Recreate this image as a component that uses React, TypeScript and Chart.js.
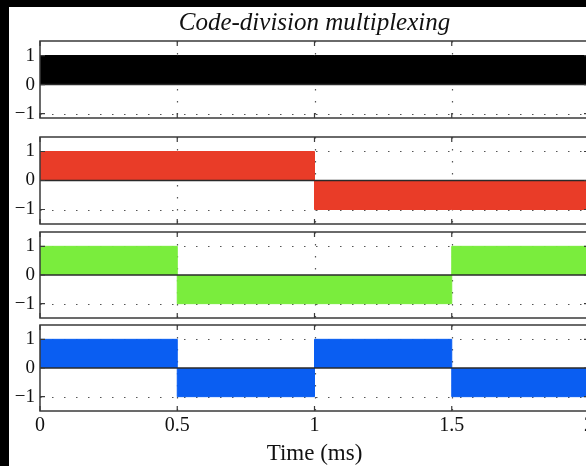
import React, { useEffect, useRef } from "react";
import { Chart, registerables } from "chart.js";

Chart.register(...registerables);

// ---- data ----
const chipEdges = [0, 0.5, 1, 1.5, 2];
const dataSignal = [1, 1, 1, 1];
const codeRed = [1, 1, -1, -1];
const codeGreen = [1, -1, -1, 1];
const codeBlue = [1, -1, 1, -1];
const xTickValues = [0, 0.5, 1, 1.5, 2];
const xTickLabels = ["0", "0.5", "1", "1.5", "2"];
const yTickValues = [-1, 0, 1];
const yTickLabels = ["\u22121", "0", "1"];
const titleText = "Code-division multiplexing";
const xAxisTitle = "Time (ms)";

// ---- layout ----
const CANVAS_W = 620;
const Y_AXIS_W = 40;
const RIGHT_PAD = 31;
const SERIF = "'Liberation Serif', 'Times New Roman', serif";

type PanelCfg = {
  values: number[];
  color: string;
  canvasTop: number;
  canvasHeight: number;
  yMin: number;
  yMax: number;
  withTitle?: boolean;
  withXAxis?: boolean;
};

const panels: PanelCfg[] = [
  { values: dataSignal, color: "#000000", canvasTop: 7, canvasHeight: 113, yMin: -1.15, yMax: 1.5, withTitle: true },
  { values: codeRed, color: "#e93c28", canvasTop: 135, canvasHeight: 91, yMin: -1.5, yMax: 1.5 },
  { values: codeGreen, color: "#7aed3d", canvasTop: 230, canvasHeight: 90, yMin: -1.5, yMax: 1.5 },
  { values: codeBlue, color: "#0a5ef2", canvasTop: 323, canvasHeight: 147, yMin: -1.5, yMax: 1.5, withXAxis: true },
];

const framePlugin = {
  id: "matlabFrame",
  beforeDatasetsDraw(chart: any) {
    const { ctx, chartArea: a } = chart;
    const xs = chart.scales.x;
    const ys = chart.scales.y;
    ctx.save();
    ctx.beginPath();
    ctx.rect(a.left, a.top, a.right - a.left, a.bottom - a.top);
    ctx.clip();
    ctx.strokeStyle = "#555555";
    ctx.lineWidth = 1.2;
    ctx.setLineDash([1.5, 10.5]);
    yTickValues.forEach((v) => {
      if (v === 0) return;
      const py = Math.round(ys.getPixelForValue(v)) + 0.5;
      ctx.beginPath();
      ctx.moveTo(a.left, py);
      ctx.lineTo(a.right, py);
      ctx.stroke();
    });
    xTickValues.forEach((v) => {
      if (v <= xs.min || v >= xs.max) return;
      const px = Math.round(xs.getPixelForValue(v)) + 0.5;
      ctx.beginPath();
      ctx.moveTo(px, a.top);
      ctx.lineTo(px, a.bottom);
      ctx.stroke();
    });
    ctx.restore();
  },
  afterDatasetsDraw(chart: any) {
    const { ctx, chartArea: a } = chart;
    const xs = chart.scales.x;
    const ys = chart.scales.y;
    ctx.save();
    ctx.setLineDash([]);
    const py0 = ys.getPixelForValue(0);
    ctx.strokeStyle = "#2a2a2a";
    ctx.lineWidth = 1.5;
    ctx.beginPath();
    ctx.moveTo(a.left, py0);
    ctx.lineTo(a.right, py0);
    ctx.stroke();
    ctx.strokeStyle = "#3a3a3a";
    ctx.lineWidth = 1.5;
    ctx.strokeRect(a.left, a.top, a.right - a.left, a.bottom - a.top);
    const tl = 5;
    ctx.lineWidth = 1.2;
    ctx.beginPath();
    xTickValues.forEach((v) => {
      const px = xs.getPixelForValue(v);
      ctx.moveTo(px, a.top);
      ctx.lineTo(px, a.top + tl);
      ctx.moveTo(px, a.bottom);
      ctx.lineTo(px, a.bottom - tl);
    });
    yTickValues.forEach((v) => {
      const py = ys.getPixelForValue(v);
      ctx.moveTo(a.left, py);
      ctx.lineTo(a.left + tl, py);
      ctx.moveTo(a.right, py);
      ctx.lineTo(a.right - tl, py);
    });
    ctx.stroke();
    ctx.restore();
  },
};

function Panel({ cfg }: { cfg: PanelCfg }) {
  const ref = useRef<HTMLCanvasElement>(null);
  useEffect(() => {
    if (!ref.current) return;
    const points = chipEdges.map((x, i) => ({ x, y: cfg.values[Math.min(i, cfg.values.length - 1)] }));
    const chart = new Chart(ref.current, {
      type: "line",
      data: {
        datasets: [
          {
            data: points,
            stepped: "before",
            fill: "origin",
            backgroundColor: cfg.color,
            borderColor: cfg.color,
            borderWidth: 1,
            pointRadius: 0,
          } as any,
        ],
      },
      options: {
        responsive: false,
        animation: false,
        events: [],
        layout: {
          padding: {
            left: 0,
            right: RIGHT_PAD,
            top: cfg.withTitle ? 0 : 2,
            bottom: cfg.withXAxis ? 0 : 2,
          },
        },
        plugins: {
          legend: { display: false },
          tooltip: { enabled: false },
          title: {
            display: !!cfg.withTitle,
            text: titleText,
            fullSize: false,
            color: "#111111",
            font: { family: SERIF, size: 25, style: "italic", weight: "normal", lineHeight: 1.2 },
            padding: { top: 1, bottom: 3 },
          },
        },
        scales: {
          x: {
            type: "linear",
            min: 0,
            max: 2,
            display: !!cfg.withXAxis,
            afterBuildTicks: (s: any) => {
              s.ticks = xTickValues.map((v) => ({ value: v }));
            },
            afterFit: (s: any) => {
              if (cfg.withXAxis) s.height = 59;
            },
            grid: { display: false, drawTicks: false },
            border: { display: false },
            ticks: {
              autoSkip: false,
              maxRotation: 0,
              padding: 3,
              color: "#111111",
              font: { family: SERIF, size: 20, lineHeight: 1.2 },
              callback: (v: any) => xTickLabels[xTickValues.indexOf(Number(v))] ?? "",
            },
            title: {
              display: true,
              text: xAxisTitle,
              color: "#111111",
              font: { family: SERIF, size: 23, lineHeight: 1.2 },
              padding: { top: 0, bottom: 2.7 },
            },
          },
          y: {
            type: "linear",
            min: cfg.yMin,
            max: cfg.yMax,
            afterBuildTicks: (s: any) => {
              s.ticks = yTickValues.map((v) => ({ value: v }));
            },
            afterFit: (s: any) => {
              s.width = Y_AXIS_W;
              s.paddingTop = 0;
              s.paddingBottom = 0;
            },
            grid: { display: false, drawTicks: false },
            border: { display: false },
            ticks: {
              autoSkip: false,
              padding: 5,
              color: "#111111",
              font: { family: SERIF, size: 19, lineHeight: 1.2 },
              callback: (v: any) => yTickLabels[yTickValues.indexOf(Number(v))] ?? "",
            },
          },
        },
      } as any,
      plugins: [framePlugin],
    });
    return () => chart.destroy();
  }, [cfg]);
  return (
    <canvas
      ref={ref}
      width={CANVAS_W}
      height={cfg.canvasHeight}
      style={{ position: "absolute", left: 0, top: cfg.canvasTop, width: CANVAS_W, height: cfg.canvasHeight }}
    />
  );
}

export default function App() {
  return (
    <div
      style={{
        position: "fixed",
        left: 0,
        top: 0,
        width: 586,
        height: 466,
        overflow: "hidden",
        background: "#000000",
      }}
    >
      <div style={{ position: "absolute", left: 9, top: 7, right: 0, bottom: 0, background: "#ffffff" }} />
      {panels.map((p, i) => (
        <Panel key={i} cfg={p} />
      ))}
    </div>
  );
}
